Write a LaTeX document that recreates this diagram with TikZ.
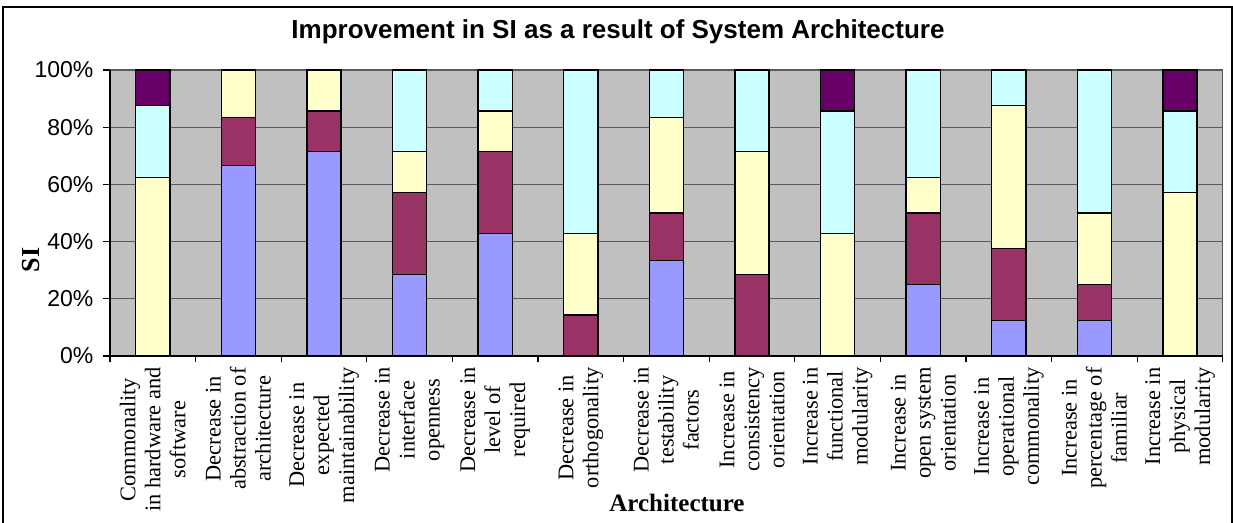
\documentclass[tikz,border=0pt]{standalone}
\usepackage{fontspec}
\setmainfont{Liberation Serif}
\newfontfamily\arialfont{Liberation Sans}
\usepackage{tikz}
\definecolor{plotgray}{HTML}{C0C0C0}
\definecolor{serblue}{HTML}{9999FF}
\definecolor{sermaroon}{HTML}{993366}
\definecolor{seryellow}{HTML}{FFFFCC}
\definecolor{sercyan}{HTML}{CCFFFF}
\definecolor{serpurple}{HTML}{660066}
\tikzset{
    bar/.style={draw=black, line width=0.7pt},
    grid line/.style={draw=black!65, line width=0.6pt},
    ticklabel/.style={font=\arialfont\fontsize{11.5}{13}\selectfont, anchor=east, inner sep=0pt},
    catlabel/.style={font=\fontsize{11.2}{12.5}\selectfont, rotate=90, anchor=east, align=center, inner sep=0pt}}

\begin{document}
\begin{tikzpicture}[x=0.5pt, y=-0.5pt]
        \useasboundingbox (0,0) rectangle (1233,523);
        \draw[line width=0.9pt] (3,7) rectangle (1232,530);

        \node[font=\arialfont\bfseries\fontsize{13}{15}\selectfont] (title) at (618,32) {Improvement in SI as a result of System Architecture};
        \node[font=\bfseries\fontsize{13}{15}\selectfont, rotate=90] (SI) at (31,260) {SI};
        \node[font=\bfseries\fontsize{12.5}{15}\selectfont] (arch) at (677,503) {Architecture};

        \begin{scope}[xshift=55pt, yshift=-178pt, x=42.8pt, y=1.43pt]
            \fill[plotgray] (0,0) rectangle (13,100);
            \foreach \v in {20,40,...,100}
                \draw[grid line] (0,\v) -- (13,\v);
            \draw[grid line] (13,0) -- (13,100);

            % cumulative tops: blue, maroon, yellow, cyan (purple up to 100)
            \foreach \i/\b/\m/\yl/\c in {1/0/0/62.5/87.5, 2/66.67/83.33/100/100, 3/71.43/85.71/100/100,
                4/28.57/57.14/71.43/100, 5/42.86/71.43/85.71/100, 6/0/14.29/42.86/100,
                7/33.33/50/83.33/100, 8/0/28.57/71.43/100, 9/0/0/42.86/85.71,
                10/25/50/62.5/100, 11/12.5/37.5/87.5/100, 12/12.5/25/50/100, 13/0/0/57.14/85.71}{
                \draw[bar, fill=serblue] (\i-0.7,0) rectangle (\i-0.3,\b);
                \draw[bar, fill=sermaroon] (\i-0.7,\b) rectangle (\i-0.3,\m);
                \draw[bar, fill=seryellow] (\i-0.7,\m) rectangle (\i-0.3,\yl);
                \draw[bar, fill=sercyan] (\i-0.7,\yl) rectangle (\i-0.3,\c);
                \draw[bar, fill=serpurple] (\i-0.7,\c) rectangle (\i-0.3,100);
            }

            \draw[line width=0.7pt] (0,100) -- (0,0) -- (13,0);
            \foreach \k in {0,...,13}
                \draw[line width=0.6pt] (\k,0) -- (\k,-2.2);
            \foreach \v in {0,20,...,100}{
                \draw[line width=0.6pt] (0,\v) -- (-0.08,\v);
                \node[ticklabel] (y\v) at (-0.19,\v) {\v\%};
            }

            \node[catlabel] (C1) at (0.5,-3.85) {Commonality\\in hardware and\\software};
            \node[catlabel] (C2) at (1.5,-3.85) {Decrease in\\abstraction of\\architecture};
            \node[catlabel] (C3) at (2.5,-3.85) {Decrease in\\expected\\maintainability};
            \node[catlabel] (C4) at (3.5,-3.85) {Decrease in\\interface\\openness};
            \node[catlabel] (C5) at (4.5,-3.85) {Decrease in\\level of\\required};
            \node[catlabel] (C6) at (5.5,-3.85) {Decrease in\\orthogonality};
            \node[catlabel] (C7) at (6.5,-3.85) {Decrease in\\testability\\factors};
            \node[catlabel] (C8) at (7.5,-3.85) {Increase in\\consistency\\orientation};
            \node[catlabel] (C9) at (8.5,-3.85) {Increase in\\functional\\modularity};
            \node[catlabel] (C10) at (9.5,-3.85) {Increase in\\open system\\orientation};
            \node[catlabel] (C11) at (10.5,-3.85) {Increase in\\operational\\commonality};
            \node[catlabel] (C12) at (11.5,-3.85) {Increase in\\percentage of\\familiar};
            \node[catlabel] (C13) at (12.5,-3.85) {Increase in\\physical\\modularity};
        \end{scope}

    \end{tikzpicture}
\end{document}
